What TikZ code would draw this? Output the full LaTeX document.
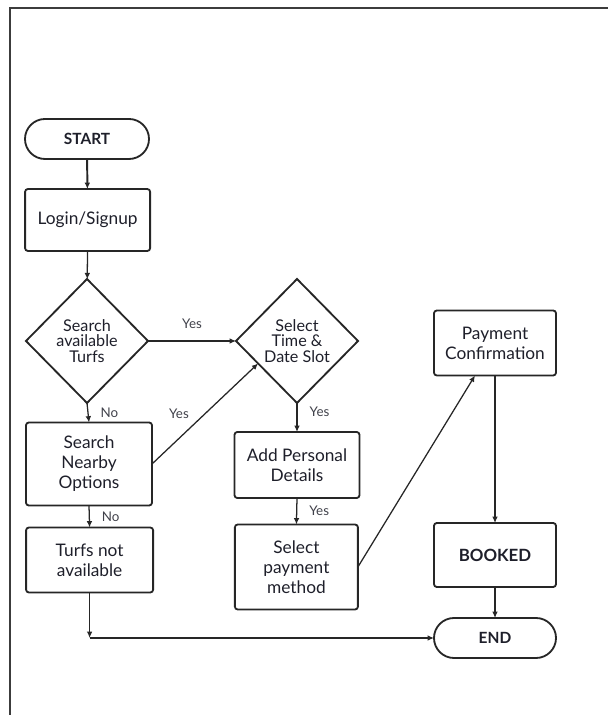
\documentclass[tikz,border=0pt]{standalone}
\usepackage{fontspec}
\setmainfont{Lato}
\usetikzlibrary{shapes.geometric,arrows.meta}
\definecolor{ink}{HTML}{1E1F2A}
\definecolor{edge}{HTML}{262626}
\begin{document}
\begin{tikzpicture}[inner sep=0pt,outer sep=0pt,line width=0.9pt,draw=edge,
>={Latex[length=4.5pt,width=4pt]},
termblock/.style={draw=edge,rectangle,rounded corners=0.5cm,minimum width=3.1cm,minimum height=1cm,line width=1.3pt,text=ink,font=\bfseries\fontsize{11}{13}\selectfont},
procblock/.style={draw=edge,rectangle,rounded corners=2pt,align=center,line width=1.3pt,text=ink,font=\fontsize{12.3}{14.2}\selectfont},
decblock/.style={draw=edge,diamond,align=center,minimum width=3.05cm,minimum height=3.1cm,line width=1.3pt,text=ink,font=\fontsize{11.5}{10.8}\selectfont},
lbl/.style={text=ink!85,font=\fontsize{9.5}{10}\selectfont}]

\useasboundingbox (0,0) rectangle (15.2,17.875);
\draw[line width=1pt,edge!90] (0.25,0) -- (0.25,17.675) -- (15.2,17.675);

\draw (2.175,14.4) node[termblock] (start) {START};
\draw (2.19,12.375) node[procblock,minimum width=3.125cm,minimum height=1.55cm] (login) {Login/Signup};
\draw (2.175,9.35) node[decblock] (search) {Search\\available\\Turfs};
\draw (7.425,9.35) node[decblock] (slot) {Select\\Time \&\\Date Slot};
\draw (2.225,6.275) node[procblock,minimum width=3.15cm,minimum height=2.075cm] (nearby) {Search\\Nearby\\Options};
\draw (2.24,3.875) node[procblock,minimum width=3.175cm,minimum height=1.625cm] (notavail) {Turfs not\\available};
\draw (7.425,6.25) node[procblock,minimum width=3.125cm,minimum height=1.65cm] (details) {Add Personal\\Details};
\draw (7.41,3.7) node[procblock,minimum width=3.075cm,minimum height=2.125cm] (payment) {Select\\payment\\method};
\draw (12.375,9.3) node[procblock,minimum width=3.05cm,minimum height=1.625cm] (confirm) {Payment\\Confirmation};
\draw (12.375,4.0) node[procblock,minimum width=3.05cm,minimum height=1.6cm,font=\bfseries\fontsize{12}{14}\selectfont] (booked) {BOOKED};
\draw (12.375,1.925) node[termblock,minimum width=3.05cm] (end) {END};
\coordinate (corner) at (notavail.south |- end.west);

\draw[->,line width=1.4pt] (start) -- (login);
\draw[->] (login) -- (search);
\draw[->] (search.east) -- node[lbl,above=9pt] {Yes} (slot.west);
\draw[->] (search.south) -- node[lbl,right=9pt] {No} (nearby.north);
\draw[->] (nearby.east) -- node[lbl,above left=4pt,pos=.4] {Yes} (slot.-150);
\draw[->] (nearby.south) -- node[lbl,right=9pt] {No} (notavail.north);
\draw[->] (notavail.south) -- (corner);
\draw[->] (corner) -- (end.west);
\draw[->] (slot.south) -- node[lbl,right=9pt,pos=.3] {Yes} (details.north);
\draw[->] (details.south) -- node[lbl,right=9pt] {Yes} (payment.north);
\draw[->] (payment.east) -- ([xshift=-0.5cm]confirm.south);
\draw[->] (confirm.south) -- (booked.north);
\draw[->] (booked.south) -- (end.north);
\end{tikzpicture}
\end{document}
